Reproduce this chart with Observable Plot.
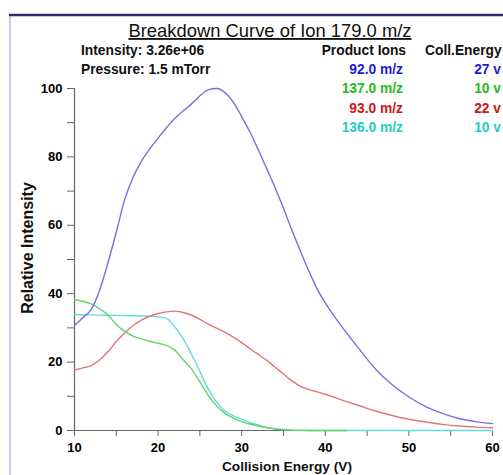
<!DOCTYPE html>
<html>
<head>
<meta charset="utf-8">
<script src="https://cdn.jsdelivr.net/npm/d3@7"></script>
<script src="https://cdn.jsdelivr.net/npm/@observablehq/plot@0.6"></script>
<style>
  body { margin: 0; background: #fff; }
  #chart { position: relative; width: 503px; height: 475px; }
</style>
</head>
<body>
<div id="chart"></div>
<script>
const titleText = "Breakdown Curve of Ion 179.0 m/z";
const infoLines = ["Intensity: 3.26e+06", "Pressure: 1.5 mTorr"];
const productIons = ["92.0 m/z", "137.0 m/z", "93.0 m/z", "136.0 m/z"];
const collEnergies = ["27 v", "10 v", "22 v", "10 v"];
const lineColors = ["#7272e4", "#66d466", "#e27676", "#5fdcdc"];
const textColors = ["#1c1cd0", "#22bb22", "#d01515", "#22cccc"];
const xTicks = [10, 20, 30, 40, 50, 60];
const xMinor = [15, 25, 35, 45, 55];
const yTicks = [0, 20, 40, 60, 80, 100];
const yMinor = [10, 30, 50, 70, 90];

// [collision energy, relative intensity]
const ion92 = [[10,30.7],[11,33],[12,35.4],[13,41],[14,49],[15,58],[16,67.5],[17,74],[18,78.7],[20,85.5],[22,91.2],[24,95.5],[26,99.6],[27,100],[28,98.8],[29,96],[30,91.8],[31,87.2],[32,82],[33,76.5],[34,71],[35,65],[36,58.6],[37,52.6],[38,46.8],[39,41.5],[40,37.3],[42,30.3],[44,24],[46,18],[48,13.4],[50,9.8],[52,7],[54,5],[56,3.5],[58,2.6],[60,2]];
const ion137 = [[10,38.3],[11,37.8],[12,37],[13,35.6],[14,33.8],[15,31],[16,29],[17,27.6],[18,26.8],[19,26.1],[20,25.5],[21,24.9],[22,23.5],[23,20.7],[24,18],[25,14.2],[26,10.3],[27,7.2],[28,5],[29,3.6],[30,2.6],[31,1.9],[32,1.3],[33,0.8],[34,0.4],[36,0.1],[38,0],[40,0],[42.5,0]];
const ion93 = [[10,17.7],[11,18.3],[12,19],[13,20.6],[14,23],[15,26],[16,28.5],[17,30.7],[18,32.3],[19,33.4],[20,34.2],[21,34.7],[22,34.9],[23,34.5],[24,33.7],[25,32.5],[26,31.1],[27,29.9],[28,28.7],[29,27.3],[30,25.7],[31,23.9],[32,22.2],[33,20.5],[34,18.5],[35,16.5],[36,14.5],[37,13],[38,12],[39,11.3],[40,10.6],[42,8.9],[44,7.3],[46,5.7],[48,4.4],[50,3.3],[52,2.5],[54,1.8],[56,1.3],[58,1],[60,0.8]];
const ion136 = [[10,33.9],[12,33.8],[14,33.7],[16,33.6],[18,33.5],[19,33.4],[20,33.2],[21,32.8],[22,30.3],[23,26.8],[24,22.3],[25,17.2],[26,12.1],[27,8.3],[28,5.7],[29,4.3],[30,3.3],[31,2.3],[32,1.6],[33,0.9],[34,0.5],[35,0.3],[36,0.1],[38,0],[40,0],[45,0],[50,0],[55,0],[60,0]];

const font = "'Liberation Sans', Arial, sans-serif";
const toRows = arr => arr.map(([x, y]) => ({x, y}));

const plot = Plot.plot({
  width: 503,
  height: 475,
  marginLeft: 74,
  marginRight: 11,
  marginTop: 88,
  marginBottom: 45,
  style: {fontFamily: font, fontSize: "13px", fontWeight: "bold", color: "#000", background: "#fff", overflow: "visible"},
  x: {domain: [10, 60]},
  y: {domain: [0, 100]},
  marks: [
    Plot.axisY(yTicks, {tickSize: 7, tickPadding: 5, stroke: "#666", label: null, fontWeight: "bold", fontSize: 13}),
    Plot.axisY(yMinor, {tickSize: 7, text: null, stroke: "#666", label: null}),
    Plot.axisX(xTicks, {tickSize: 6, tickPadding: 6, stroke: "#666", label: null, fontWeight: "bold", fontSize: 13}),
    Plot.axisX(xMinor, {tickSize: 6, text: null, stroke: "#666", label: null}),
    Plot.ruleX([10], {stroke: "#666", strokeWidth: 1.2}),
    Plot.ruleY([0], {stroke: "#666", strokeWidth: 1.2}),
    Plot.line(toRows(ion136), {x: "x", y: "y", stroke: lineColors[3], strokeWidth: 1.4, curve: "monotone-x"}),
    Plot.line(toRows(ion93), {x: "x", y: "y", stroke: lineColors[2], strokeWidth: 1.4, curve: "monotone-x"}),
    Plot.line(toRows(ion137), {x: "x", y: "y", stroke: lineColors[1], strokeWidth: 1.4, curve: "monotone-x"}),
    Plot.line(toRows(ion92), {x: "x", y: "y", stroke: lineColors[0], strokeWidth: 1.4, curve: "monotone-x"})
  ]
});

document.getElementById("chart").appendChild(plot);

const svg = d3.select(plot);
const addText = (x, y, t, anchor, size, weight, fill) =>
  svg.append("text").attr("x", x).attr("y", y).attr("text-anchor", anchor)
    .style("text-anchor", anchor)
    .style("font-family", font).style("font-size", size + "px").style("font-weight", weight)
    .attr("fill", fill).text(t);

// frame
svg.append("line").attr("x1", 10).attr("x2", 10).attr("y1", 15).attr("y2", 475)
  .attr("stroke", "#c9c9f2").attr("stroke-width", 2);
svg.append("line").attr("x1", 9).attr("x2", 503).attr("y1", 15).attr("y2", 15)
  .attr("stroke", "#2e2e66").attr("stroke-width", 2.5);

// title
addText(270, 37, titleText, "middle", 18.4, "normal", "#111").attr("text-decoration", "underline");

// info lines
infoLines.forEach((t, i) => addText(81, 55 + i * 19, t, "start", 13.8, "bold", "#111"));

// legend headers
addText(406, 55, "Product Ions", "end", 13.8, "bold", "#111");
addText(425, 55, "Coll.Energy", "start", 13.8, "bold", "#111");

productIons.forEach((t, i) => {
  const y = 74 + i * 19.3;
  addText(403, y, t, "end", 13.8, "bold", textColors[i]);
  addText(501, y, collEnergies[i], "end", 13.8, "bold", textColors[i]);
});

// axis labels
svg.append("text").attr("transform", "translate(33,248) rotate(-90)")
  .attr("text-anchor", "middle").style("text-anchor", "middle")
  .style("font-family", font).style("font-size", "16px").style("font-weight", "bold")
  .attr("fill", "#111").text("Relative Intensity");
addText(287, 471, "Collision Energy (V)", "middle", 13.7, "bold", "#111");
</script>
</body>
</html>
